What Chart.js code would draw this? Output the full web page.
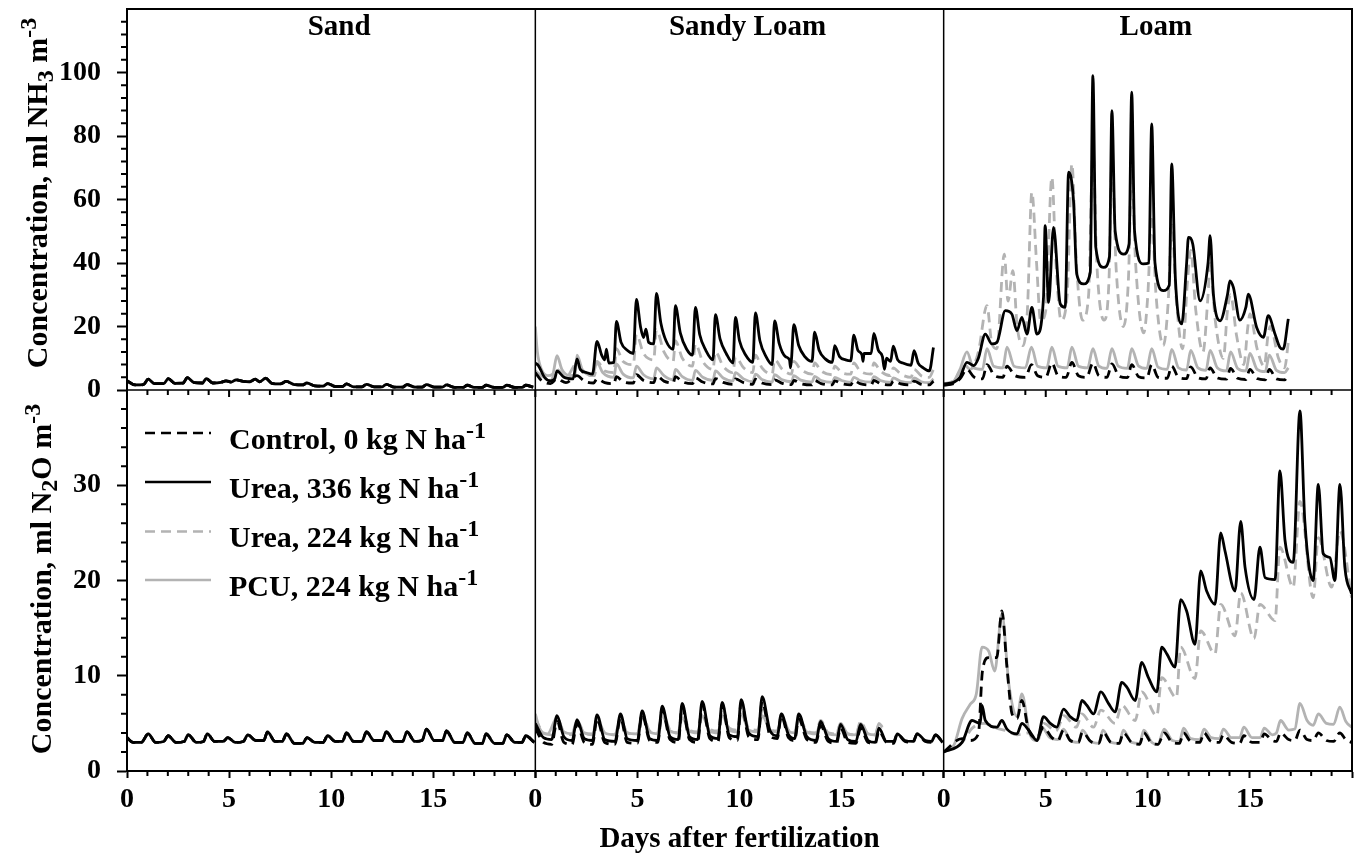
<!DOCTYPE html>
<html>
<head>
<meta charset="utf-8">
<script src="https://cdn.jsdelivr.net/npm/chart.js@4.4.1/dist/chart.umd.min.js"></script>
<style>
  body { margin: 0; background: #fff; }
  #wrap { position: relative; width: 1356px; height: 857px; font-family: 'Liberation Serif', 'Times New Roman', serif; font-weight: bold; color: #000; }
  #chart { position: absolute; left: 0; top: 0; }
  .ytitle { position: absolute; font-size: 30px; line-height: 30px; white-space: nowrap; transform: translate(-50%, -50%) rotate(-90deg); }
  .legend { position: absolute; left: 229px; font-size: 30px; line-height: 30px; white-space: nowrap; }
  .sub { position: relative; top: 0.25em; font-size: 0.8em; line-height: 0; }
  .sup { position: relative; top: -0.45em; font-size: 0.8em; line-height: 0; }
</style>
</head>
<body>
<div id="wrap">
  <canvas id="chart" width="1356" height="857"></canvas>
  <div class="ytitle" style="left:37px; top:193px;">Concentration, ml NH<span class="sub">3</span> m<span class="sup">-3</span></div>
  <div class="ytitle" style="left:41px; top:579px;">Concentration, ml N<span class="sub">2</span>O m<span class="sup">-3</span></div>
  <div class="legend" style="top:424px;">Control, 0 kg N ha<span class="sup">-1</span></div>
  <div class="legend" style="top:473px;">Urea, 336 kg N ha<span class="sup">-1</span></div>
  <div class="legend" style="top:522px;">Urea, 224 kg N ha<span class="sup">-1</span></div>
  <div class="legend" style="top:571px;">PCU, 224 kg N ha<span class="sup">-1</span></div>
</div>
<script>
// [day, concentration]
const sandNH3 = [[0,2.9],[0.4,1.6],[0.8,1.7],[1.04,3.4],[1.35,2.0],[1.8,2.0],[2.02,3.6],[2.35,2.1],[2.75,2.2],[2.95,3.9],[3.3,2.3],[3.7,2.2],[3.88,3.6],[4.2,2.2],[4.6,2.4],[4.85,2.9],[5.1,2.5],[5.35,3.2],[5.7,2.7],[6.0,2.6],[6.28,3.4],[6.5,2.6],[6.79,3.7],[7.1,2.1],[7.5,1.9],[7.8,2.7],[8.2,1.7],[8.6,1.6],[8.81,2.2],[9.2,1.3],[9.6,1.2],[9.83,2.0],[10.2,1.1],[10.55,1.1],[10.75,1.9],[11.1,1.0],[11.5,1.0],[11.73,1.8],[12.1,1.0],[12.5,1.0],[12.7,1.8],[13.1,0.9],[13.5,0.9],[13.71,1.7],[14.1,0.9],[14.45,0.9],[14.67,1.7],[15.05,0.9],[15.45,0.9],[15.65,1.6],[16.05,0.8],[16.45,0.8],[16.67,1.5],[17.0,0.8],[17.4,0.8],[17.59,1.5],[18.0,0.8],[18.4,0.8],[18.6,1.5],[19.0,0.8],[19.35,0.8],[19.53,1.5],[19.9,0.9]];

const sandN2O = [[0,3.5],[0.3,3.0],[0.7,3.0],[1.04,3.9],[1.4,3.0],[1.8,3.1],[2.02,3.7],[2.4,3.0],[2.8,3.1],[3.0,3.8],[3.4,3.0],[3.75,3.1],[3.93,3.9],[4.3,3.1],[4.7,3.1],[4.94,3.5],[5.3,3.0],[5.7,3.1],[5.92,3.8],[6.3,3.2],[6.7,3.2],[6.88,4.1],[7.25,3.1],[7.6,3.1],[7.81,3.9],[8.2,2.9],[8.6,2.9],[8.82,3.5],[9.2,3.0],[9.6,3.0],[9.83,3.7],[10.2,3.1],[10.55,3.1],[10.75,4.0],[11.1,3.1],[11.5,3.1],[11.73,4.1],[12.1,3.2],[12.5,3.2],[12.7,4.1],[13.1,3.1],[13.5,3.1],[13.71,4.1],[14.1,3.1],[14.45,3.2],[14.67,4.4],[15.05,3.2],[15.45,3.2],[15.65,4.2],[16.05,3.0],[16.45,3.0],[16.67,4.0],[17.05,2.9],[17.4,2.9],[17.59,3.9],[18.0,2.9],[18.4,2.9],[18.6,3.8],[19.0,3.0],[19.35,3.0],[19.53,3.7],[19.95,3.0]];

const sandyLoamNH3Urea336 = [[0,8.5],[0.15,7.7],[0.45,4.0],[0.74,2.9],[0.95,3.5],[1.06,6.0],[1.4,4.0],[1.85,3.5],[2.04,9.8],[2.2,6.5],[2.5,5.5],[2.8,5.0],[3.02,15.3],[3.25,11.0],[3.4,9.5],[3.48,12.9],[3.6,8.5],[3.85,8.7],[3.97,21.6],[4.2,15.0],[4.5,12.5],[4.8,11.5],[4.95,28.5],[5.15,20.0],[5.3,16.5],[5.42,19.2],[5.55,15.0],[5.8,14.5],[5.93,30.4],[6.15,21.0],[6.4,15.5],[6.75,12.8],[6.86,26.6],[7.1,18.0],[7.4,13.0],[7.7,11.0],[7.84,26.0],[8.05,17.5],[8.35,12.5],[8.7,9.5],[8.82,23.7],[9.05,16.0],[9.35,11.5],[9.68,8.5],[9.8,22.9],[10.0,15.5],[10.3,11.0],[10.65,8.7],[10.78,24.3],[11.0,15.5],[11.3,10.5],[11.6,8.0],[11.72,21.8],[11.95,14.5],[12.25,10.5],[12.45,9.5],[12.5,7.0],[12.55,10.0],[12.66,20.6],[12.9,14.0],[13.2,10.5],[13.55,9.0],[13.68,18.2],[13.9,12.5],[14.2,9.8],[14.55,8.7],[14.66,14.0],[14.9,10.5],[15.2,9.5],[15.45,9.2],[15.6,17.3],[15.8,12.5],[16.0,11.0],[16.05,9.0],[16.1,11.5],[16.45,11.5],[16.58,17.8],[16.8,12.5],[17.0,10.5],[17.1,6.5],[17.2,10.0],[17.4,9.0],[17.53,13.8],[17.75,9.5],[18.0,8.5],[18.4,7.8],[18.55,12.4],[18.75,8.5],[19.0,7.0],[19.3,6.0],[19.5,13.4]];
const sandyLoamNH3Control = [[0,5.5],[0.3,3.0],[0.74,2.0],[1.06,3.5],[1.5,2.3],[2.04,4.5],[2.4,2.8],[2.85,2.2],[3.02,3.5],[3.4,2.3],[3.85,2.0],[3.97,4.2],[4.3,2.6],[4.8,2.2],[4.95,4.8],[5.3,3.0],[5.8,2.3],[5.93,4.5],[6.3,2.8],[6.75,2.2],[6.86,4.2],[7.2,2.6],[7.7,2.0],[7.84,3.8],[8.2,2.5],[8.7,1.9],[8.82,3.6],[9.2,2.4],[9.68,1.8],[9.8,3.5],[10.2,2.3],[10.65,1.8],[10.78,3.4],[11.1,2.2],[11.6,1.7],[11.72,3.2],[12.1,2.1],[12.55,1.7],[12.66,3.0],[13.0,2.0],[13.55,1.6],[13.68,3.0],[14.0,2.0],[14.55,1.6],[14.66,2.9],[15.0,2.0],[15.45,1.6],[15.6,3.0],[15.9,2.0],[16.45,1.6],[16.58,3.0],[16.9,2.0],[17.4,1.6],[17.53,2.8],[17.9,1.9],[18.4,1.6],[18.55,2.8],[18.9,1.8],[19.3,1.6],[19.5,2.8]];
const sandyLoamNH3Urea224 = [[0,6.0],[0.3,4.5],[0.74,3.0],[1.06,6.5],[1.5,4.0],[2.04,8.5],[2.4,5.0],[2.9,4.5],[3.02,9.0],[3.4,6.0],[3.85,5.5],[3.97,13.0],[4.3,9.0],[4.8,8.0],[4.95,17.5],[5.3,11.5],[5.8,9.5],[5.93,19.0],[6.3,12.0],[6.75,9.0],[6.86,15.5],[7.2,10.0],[7.7,7.5],[7.84,14.5],[8.2,9.0],[8.7,6.5],[8.82,12.0],[9.2,7.5],[9.68,5.5],[9.8,10.5],[10.2,7.0],[10.65,5.5],[10.78,11.0],[11.1,7.0],[11.6,5.0],[11.72,9.5],[12.1,6.5],[12.55,5.0],[12.66,9.0],[13.0,6.5],[13.55,5.0],[13.68,8.5],[14.0,6.0],[14.55,4.8],[14.66,7.5],[15.0,5.5],[15.45,5.0],[15.6,8.5],[15.9,6.0],[16.45,5.0],[16.58,8.5],[16.9,6.0],[17.4,4.5],[17.53,7.0],[17.9,5.0],[18.4,4.0],[18.55,6.5],[18.9,4.5],[19.3,4.0],[19.5,6.5]];
const sandyLoamNH3PCU = [[0,20.0],[0.1,12.0],[0.3,6.5],[0.6,4.5],[0.85,5.0],[1.06,10.8],[1.3,6.5],[1.7,4.5],[1.95,5.0],[2.04,11.0],[2.3,6.5],[2.8,4.5],[3.02,8.7],[3.3,5.5],[3.85,4.0],[3.97,8.2],[4.3,5.0],[4.8,3.8],[4.95,7.5],[5.3,4.8],[5.8,3.5],[5.93,7.0],[6.3,4.5],[6.75,3.2],[6.86,6.5],[7.2,4.2],[7.7,3.0],[7.84,6.2],[8.2,4.0],[8.7,3.0],[8.82,6.0],[9.2,3.8],[9.68,2.8],[9.8,5.5],[10.2,3.5],[10.65,2.6],[10.78,5.0],[11.1,3.3],[11.6,2.5],[11.72,4.8],[12.1,3.2],[12.55,2.6],[12.66,4.5],[13.0,3.1],[13.55,2.5],[13.68,4.3],[14.0,3.0],[14.55,2.4],[14.66,4.0],[15.0,3.0],[15.45,2.4],[15.6,4.0],[15.9,3.0],[16.45,2.5],[16.58,4.2],[16.9,3.0],[17.4,2.4],[17.53,3.8],[17.9,2.7],[18.4,2.3],[18.55,3.8],[18.9,2.6],[19.3,2.3],[19.5,3.5]];

const sandyLoamN2OUrea336 = [[0,5.0],[0.4,3.5],[0.8,3.3],[1.06,5.8],[1.4,3.6],[1.8,3.2],[2.04,5.4],[2.4,3.4],[2.8,3.2],[3.02,5.9],[3.4,3.3],[3.9,3.1],[4.17,6.0],[4.5,3.4],[5.0,3.2],[5.23,6.3],[5.6,3.4],[6.0,3.2],[6.21,6.8],[6.6,3.6],[7.0,3.3],[7.19,7.1],[7.55,3.6],[7.95,3.3],[8.17,7.3],[8.55,3.7],[8.95,3.4],[9.15,7.2],[9.5,3.8],[9.9,3.6],[10.08,7.5],[10.45,4.0],[10.9,3.6],[11.11,7.8],[11.5,4.2],[11.85,3.7],[12.05,6.0],[12.4,3.8],[12.7,3.4],[12.9,6.0],[13.3,3.6],[13.75,3.2],[13.97,5.2],[14.35,3.4],[14.75,3.1],[14.95,4.9],[15.3,3.3],[15.7,3.1],[15.93,4.9],[16.3,3.2],[16.65,3.0],[16.83,4.5],[17.2,3.1],[17.55,3.1],[17.73,3.9],[18.1,3.2],[18.5,3.1],[18.7,3.9],[19.1,3.2],[19.4,3.1],[19.6,3.8],[19.95,3.0]];
const sandyLoamN2OControl = [[0,4.5],[0.4,3.0],[0.8,2.8],[1.06,5.2],[1.4,3.0],[1.8,2.8],[2.04,5.0],[2.4,3.0],[2.8,2.8],[3.02,5.5],[3.4,3.0],[3.9,2.8],[4.17,5.6],[4.5,3.0],[5.0,2.9],[5.23,6.0],[5.6,3.2],[6.0,3.0],[6.21,6.5],[6.6,3.3],[7.0,3.0],[7.19,6.8],[7.55,3.3],[7.95,3.0],[8.17,7.0],[8.55,3.4],[8.95,3.1],[9.15,7.0],[9.5,3.5],[9.9,3.2],[10.08,7.2],[10.45,3.6],[10.9,3.3],[11.11,7.3],[11.5,3.7],[11.85,3.4],[12.05,5.8],[12.4,3.5],[12.7,3.2],[12.9,5.5],[13.3,3.3],[13.75,3.0],[13.97,4.8],[14.35,3.1],[14.75,2.9],[14.95,4.5],[15.3,3.0],[15.7,2.9],[15.93,4.5],[16.3,3.0],[16.65,2.9],[16.83,4.2],[17.2,3.0],[17.55,2.9],[17.73,3.9],[18.1,3.1],[18.5,3.0],[18.7,3.9],[19.1,3.1],[19.4,3.0],[19.6,3.8],[19.95,3.0]];
const sandyLoamN2OUrea224 = [[0,5.5],[0.4,4.0],[0.8,3.8],[1.06,5.5],[1.4,4.0],[1.8,3.8],[2.04,5.2],[2.4,4.0],[2.8,3.8],[3.02,5.5],[3.4,4.0],[3.9,3.8],[4.17,5.6],[4.5,4.0],[5.0,3.9],[5.23,6.0],[5.6,4.2],[6.0,4.0],[6.21,6.2],[6.6,4.3],[7.0,4.0],[7.19,6.3],[7.55,4.3],[7.95,4.1],[8.17,6.2],[8.55,4.4],[8.95,4.2],[9.15,6.5],[9.5,4.5],[9.9,4.3],[10.08,6.8],[10.45,4.5],[10.9,4.3],[11.11,6.4],[11.5,4.4],[11.85,4.2],[12.05,6.0],[12.4,4.3],[12.7,4.1],[12.9,5.6],[13.3,4.2],[13.75,4.0],[13.97,5.3],[14.35,4.0],[14.75,3.9],[14.95,5.0],[15.3,3.9],[15.7,3.8],[15.93,5.2],[16.3,3.9],[16.65,3.8],[16.83,4.8],[17.0,4.5]];
const sandyLoamN2OPCU = [[0,6.0],[0.2,4.5],[0.6,3.9],[1.06,5.6],[1.4,4.1],[1.8,3.9],[2.04,5.3],[2.4,4.0],[2.8,3.9],[3.02,5.2],[3.4,4.0],[3.9,3.8],[4.17,5.4],[4.5,4.0],[5.0,3.9],[5.23,5.6],[5.6,4.1],[6.0,3.9],[6.21,5.8],[6.6,4.2],[7.0,4.0],[7.19,5.6],[7.55,4.2],[7.95,4.0],[8.17,5.8],[8.55,4.2],[8.95,4.0],[9.15,5.9],[9.5,4.3],[9.9,4.1],[10.08,6.0],[10.45,4.3],[10.9,4.1],[11.11,5.8],[11.5,4.3],[11.85,4.1],[12.05,5.6],[12.4,4.2],[12.7,4.0],[12.9,5.3],[13.3,4.1],[13.75,3.9],[13.97,5.0],[14.35,3.9],[14.75,3.8],[14.95,5.0],[15.3,3.9],[15.7,3.8],[15.93,5.0],[16.3,3.9],[16.65,3.8],[16.83,5.0],[17.0,4.6]];

const loamNH3Urea336 = [[0,1.9],[0.49,2.4],[0.8,4.0],[1.14,8.7],[1.47,7.7],[1.7,10.0],[2.04,17.6],[2.36,14.5],[2.61,15.0],[3.02,25.0],[3.34,23.9],[3.59,18.7],[3.83,22.9],[4.08,17.6],[4.32,26.0],[4.57,17.6],[4.89,29.2],[4.97,51.8],[5.14,27.6],[5.38,51.2],[5.71,27.1],[5.95,26.0],[6.12,68.6],[6.36,59.6],[6.52,36.5],[6.85,33.4],[7.18,37.0],[7.31,99.0],[7.45,45.0],[7.83,38.6],[8.12,42.0],[8.24,88.0],[8.4,50.0],[8.81,42.8],[9.08,46.0],[9.21,93.8],[9.35,50.0],[9.78,39.7],[10.05,40.0],[10.19,83.8],[10.35,40.0],[10.76,31.3],[11.05,33.0],[11.17,71.2],[11.35,35.0],[11.66,20.8],[11.9,40.0],[11.99,48.1],[12.2,46.0],[12.56,28.1],[12.95,40.0],[13.05,48.6],[13.21,30.2],[13.54,21.8],[13.9,30.0],[14.02,34.4],[14.19,32.3],[14.51,22.0],[14.8,26.0],[14.92,30.2],[15.33,19.7],[15.66,16.6],[15.9,23.4],[16.23,17.6],[16.47,13.4],[16.63,12.9],[16.88,22.4]];
const loamNH3Control = [[0,1.5],[0.5,2.0],[0.8,3.5],[1.14,6.5],[1.5,4.0],[1.9,3.5],[2.12,8.0],[2.5,4.5],[2.9,4.0],[3.1,7.5],[3.5,4.5],[4.0,4.0],[4.3,8.0],[4.6,4.5],[5.0,4.0],[5.3,8.5],[5.6,4.5],[6.0,4.0],[6.28,8.7],[6.6,4.5],[7.0,4.0],[7.31,8.5],[7.6,4.5],[8.0,4.0],[8.24,8.2],[8.6,4.3],[9.0,3.9],[9.21,8.0],[9.55,4.2],[9.95,3.8],[10.19,8.0],[10.5,4.0],[10.95,3.7],[11.17,7.5],[11.5,4.0],[11.9,3.6],[12.1,7.3],[12.45,3.9],[12.85,3.5],[13.05,7.0],[13.4,3.8],[13.85,3.4],[14.05,6.8],[14.4,3.7],[14.8,3.3],[15.0,6.5],[15.35,3.6],[15.75,3.2],[15.95,6.5],[16.3,3.5],[16.7,3.2],[16.88,5.0]];
const loamNH3Urea224 = [[0,2.0],[0.5,3.0],[0.8,6.0],[1.0,8.0],[1.3,6.5],[1.7,12.0],[2.12,26.6],[2.35,15.0],[2.6,13.0],[2.97,42.8],[3.15,28.0],[3.39,37.6],[3.6,20.0],[3.9,14.0],[4.1,25.0],[4.32,62.3],[4.55,40.0],[4.75,21.8],[5.0,25.0],[5.3,67.0],[5.5,40.0],[5.75,22.0],[6.05,30.0],[6.28,71.2],[6.5,40.0],[6.8,22.0],[7.1,30.0],[7.31,76.4],[7.5,40.0],[7.85,22.0],[8.1,35.0],[8.24,73.0],[8.45,38.0],[8.8,20.0],[9.05,35.0],[9.21,70.0],[9.4,40.0],[9.8,18.0],[10.0,30.0],[10.19,55.0],[10.4,30.0],[10.76,14.0],[11.0,28.0],[11.17,52.0],[11.4,28.0],[11.7,13.0],[11.95,35.0],[12.1,44.0],[12.35,25.0],[12.7,12.0],[12.95,30.0],[13.05,40.0],[13.3,22.0],[13.7,10.0],[13.9,25.0],[14.05,30.0],[14.35,17.0],[14.7,8.0],[14.9,20.0],[15.0,24.0],[15.35,13.0],[15.7,7.5],[15.9,18.0],[16.0,20.0],[16.4,10.0],[16.7,7.0],[16.88,15.0]];
const loamNH3PCU = [[0,1.5],[0.4,2.0],[0.8,6.5],[1.14,12.0],[1.45,7.0],[1.9,6.5],[2.12,13.0],[2.45,7.5],[2.9,7.0],[3.1,13.5],[3.45,7.5],[4.0,7.0],[4.3,13.5],[4.6,7.5],[5.05,7.0],[5.3,13.5],[5.6,7.5],[6.05,7.0],[6.28,13.5],[6.6,7.5],[7.05,7.0],[7.31,13.0],[7.6,7.5],[8.0,6.8],[8.24,13.0],[8.55,7.5],[9.0,6.8],[9.21,13.0],[9.55,7.5],[9.95,6.8],[10.19,13.0],[10.5,7.2],[10.95,6.5],[11.17,12.8],[11.5,7.0],[11.9,6.3],[12.1,12.5],[12.45,7.0],[12.85,6.2],[13.05,12.5],[13.4,7.0],[13.85,6.0],[14.05,12.0],[14.4,6.8],[14.8,6.0],[15.0,11.5],[15.35,6.5],[15.75,5.8],[15.95,11.0],[16.3,6.2],[16.7,5.5],[16.88,7.0]];

const loamN2OUrea336 = [[0,2.0],[0.9,3.0],[1.39,5.3],[1.79,5.0],[1.88,6.9],[2.04,5.3],[2.61,4.6],[2.85,5.3],[3.1,4.4],[3.59,3.9],[3.83,5.0],[4.16,4.3],[4.57,3.2],[4.89,5.7],[5.22,5.0],[5.54,4.6],[5.87,6.5],[6.2,5.7],[6.52,5.3],[6.77,7.4],[7.01,6.9],[7.34,6.0],[7.7,8.3],[8.07,7.1],[8.4,6.2],[8.72,9.3],[8.97,8.8],[9.38,7.4],[9.7,11.4],[10.03,9.8],[10.44,8.3],[10.68,13.0],[10.93,12.3],[11.33,10.9],[11.61,18.0],[11.9,16.8],[12.31,13.3],[12.59,21.0],[12.88,18.9],[13.29,17.5],[13.57,25.0],[13.78,23.1],[14.27,18.9],[14.55,26.2],[14.76,21.4],[15.2,18.0],[15.49,23.5],[15.74,20.3],[16.23,20.1],[16.47,31.5],[16.72,24.2],[17.12,21.9],[17.45,37.8],[17.69,26.2],[18.1,20.0],[18.35,30.1],[18.59,22.8],[18.92,22.4],[19.16,20.0],[19.41,30.1],[19.65,21.4],[19.98,18.6]];
const loamN2OControl = [[0,2.0],[0.9,3.4],[1.3,3.2],[1.7,3.9],[1.9,10.5],[2.2,11.9],[2.6,11.9],[2.85,16.8],[3.1,10.9],[3.35,6.0],[3.6,5.5],[3.83,7.4],[4.16,4.3],[4.57,3.5],[4.89,4.6],[5.3,3.5],[5.6,3.2],[5.87,4.3],[6.2,3.2],[6.6,3.0],[6.8,4.1],[7.2,3.1],[7.6,2.9],[7.8,4.1],[8.2,3.0],[8.6,2.9],[8.8,4.0],[9.2,3.0],[9.6,2.8],[9.8,4.0],[10.2,2.9],[10.5,2.8],[10.8,4.0],[11.2,3.0],[11.55,2.9],[11.75,4.0],[12.1,3.1],[12.55,3.0],[12.75,4.0],[13.1,3.1],[13.5,3.0],[13.7,3.8],[14.1,3.0],[14.5,2.9],[14.7,3.7],[15.1,3.0],[15.5,3.0],[15.7,3.9],[16.1,3.2],[16.3,3.1],[16.5,4.0],[16.9,3.3],[17.2,3.2],[17.45,4.3],[17.8,3.3],[18.1,3.2],[18.35,4.0],[18.75,3.2],[19.1,3.1],[19.4,4.0],[19.7,3.3],[19.98,3.0]];
const loamN2OUrea224 = [[0,2.0],[0.9,3.0],[1.4,4.5],[2.0,5.0],[2.6,4.5],[3.1,4.2],[3.6,3.8],[4.2,4.0],[4.6,3.2],[4.9,5.0],[5.5,4.2],[5.9,5.8],[6.5,4.6],[6.77,6.0],[7.34,4.6],[7.7,6.4],[8.4,5.0],[8.72,6.9],[9.38,5.3],[9.7,8.3],[10.44,5.8],[10.68,9.8],[11.4,7.7],[11.61,13.0],[12.31,9.7],[12.59,14.7],[13.29,12.3],[13.57,17.5],[14.27,14.2],[14.55,18.7],[15.2,13.9],[15.49,17.5],[16.23,15.8],[16.47,23.5],[17.12,19.3],[17.45,28.3],[18.1,18.2],[18.35,24.5],[19.0,19.3],[19.41,25.2],[19.98,18.2]];
const loamN2OPCU = [[0,2.0],[0.5,2.7],[0.9,5.5],[1.3,7.0],[1.6,8.1],[1.88,13.0],[2.2,12.6],[2.5,10.5],[2.85,16.5],[3.2,9.0],[3.6,5.7],[3.83,8.1],[4.2,4.0],[4.57,3.2],[4.8,4.6],[5.2,3.5],[5.6,3.3],[5.87,4.4],[6.2,3.2],[6.6,3.0],[6.8,4.3],[7.2,3.1],[7.6,2.9],[7.8,4.3],[8.2,3.0],[8.6,2.9],[8.8,4.3],[9.2,3.0],[9.6,2.9],[9.8,4.3],[10.2,3.0],[10.5,2.8],[10.8,4.4],[11.2,3.2],[11.55,3.1],[11.75,4.5],[12.1,3.4],[12.55,3.3],[12.75,4.4],[13.1,3.5],[13.5,3.4],[13.7,4.4],[14.1,3.5],[14.5,3.5],[14.7,4.6],[15.1,3.5],[15.5,3.5],[15.7,4.5],[16.1,3.8],[16.3,4.0],[16.5,5.3],[16.9,4.3],[17.2,4.4],[17.45,7.1],[17.8,5.3],[18.1,4.8],[18.35,6.0],[18.75,5.0],[19.1,4.9],[19.4,6.7],[19.7,5.2],[19.98,4.6]];

const soils = ['Sand', 'Sandy Loam', 'Loam'];
const treatments = ['Urea, 336 kg N ha', 'Control, 0 kg N ha', 'Urea, 224 kg N ha', 'PCU, 224 kg N ha'];

const GRAY = '#b3b3b3';
const styles = [
  { color: '#000', dash: [] },
  { color: '#000', dash: [10, 6] },
  { color: GRAY, dash: [10, 6] },
  { color: GRAY, dash: [] },
];

// one entry per panel: x axis, y axis, and the series in treatment order
const panels = [
  { x: 'xSand', y: 'yNH3', series: [sandNH3, sandNH3, sandNH3, sandNH3] },
  { x: 'xSandyLoam', y: 'yNH3', series: [sandyLoamNH3Urea336, sandyLoamNH3Control, sandyLoamNH3Urea224, sandyLoamNH3PCU] },
  { x: 'xLoam', y: 'yNH3', series: [loamNH3Urea336, loamNH3Control, loamNH3Urea224, loamNH3PCU] },
  { x: 'xSand', y: 'yN2O', series: [sandN2O, sandN2O, sandN2O, sandN2O] },
  { x: 'xSandyLoam', y: 'yN2O', series: [sandyLoamN2OUrea336, sandyLoamN2OControl, sandyLoamN2OUrea224, sandyLoamN2OPCU] },
  { x: 'xLoam', y: 'yN2O', series: [loamN2OUrea336, loamN2OControl, loamN2OUrea224, loamN2OPCU] },
];

// datasets sorted so the black lines sit on top (index 0 is drawn last)
const datasets = [];
treatments.forEach((t, i) => {
  panels.forEach(p => {
    datasets.push({
      label: t,
      data: p.series[i].map(([x, y]) => ({ x, y })),
      xAxisID: p.x,
      yAxisID: p.y,
      borderColor: styles[i].color,
      borderDash: styles[i].dash,
      borderWidth: 2.8,
      pointRadius: 0,
      fill: false,
      cubicInterpolationMode: 'monotone',
    });
  });
});

const serif = 'Liberation Serif';
const tickFont = { family: serif, size: 28, weight: 'bold' };

function xAxis(withTitle) {
  return {
    type: 'linear', position: 'bottom', stack: 'days', stackWeight: 1,
    min: 0, max: 20,
    ticks: { stepSize: 5, autoSkip: false, maxRotation: 0, color: '#000', font: tickFont, padding: 5,
      callback: v => (v < 20 ? String(v) : '') },
    grid: { drawOnChartArea: false, tickLength: 7, tickWidth: 2, tickColor: '#000' },
    border: { color: '#000', width: 2 },
    title: { display: withTitle, text: 'Days after fertilization', color: '#000',
      font: { family: serif, size: 29, weight: 'bold' }, padding: 0 },
    afterFit: s => { s.height = 86; s.paddingLeft = 0; s.paddingRight = 0; },
  };
}

function yAxis(max, step) {
  return {
    type: 'linear', position: 'left', stack: 'conc', stackWeight: 1,
    min: 0, max: max,
    ticks: { stepSize: step, color: '#000', font: tickFont, padding: 16,
      callback: v => (v < max ? String(v) : null) },
    grid: { drawOnChartArea: false, tickLength: 10, tickWidth: 2, tickColor: '#000' },
    border: { color: '#000', width: 2 },
    afterFit: s => { s.width = 127; s.paddingTop = 0; s.paddingBottom = 0; },
  };
}

const legendLineY = [433, 482, 531.5, 580];
const legendOrder = [1, 0, 2, 3];

const framePlugin = {
  id: 'frame',
  afterDraw(chart) {
    const { ctx, chartArea: a, scales } = chart;
    const yMid = scales.yNH3.bottom;
    const line = (x1, y1, x2, y2) => { ctx.moveTo(x1, y1); ctx.lineTo(x2, y2); };
    ctx.save();
    ctx.strokeStyle = '#000';
    ctx.lineWidth = 2;
    ctx.strokeRect(a.left, a.top, a.width, a.height);

    ctx.lineWidth = 1.5;
    ctx.beginPath();
    line(scales.xSand.right, a.top, scales.xSand.right, a.bottom);
    line(scales.xSandyLoam.right, a.top, scales.xSandyLoam.right, a.bottom);
    line(a.left, yMid, a.right, yMid);
    ctx.stroke();

    // minor ticks, and the top row's day ticks on the middle line
    ctx.lineWidth = 2;
    ctx.beginPath();
    ['xSand', 'xSandyLoam', 'xLoam'].forEach(id => {
      const s = scales[id];
      for (let d = 0; d <= 20; d++) {
        const x = s.getPixelForValue(d);
        if (d % 5 !== 0) line(x, a.bottom, x, a.bottom + 5);
        line(x, yMid, x, yMid + (d % 5 === 0 ? 7 : 5));
      }
    });
    for (let v = 4; v < 120; v += 4) {
      if (v % 20 === 0) continue;
      const y = scales.yNH3.getPixelForValue(v);
      line(a.left - 6, y, a.left, y);
    }
    for (let v = 2; v < 40; v += 2) {
      if (v % 10 === 0) continue;
      const y = scales.yN2O.getPixelForValue(v);
      line(a.left - 6, y, a.left, y);
    }
    ctx.stroke();

    // panel titles
    ctx.fillStyle = '#000';
    ctx.font = 'bold 29px "' + serif + '"';
    ctx.textAlign = 'center';
    ctx.textBaseline = 'alphabetic';
    ['xSand', 'xSandyLoam', 'xLoam'].forEach((id, i) => {
      const s = scales[id];
      ctx.fillText(soils[i], (s.left + s.right) / 2 + 8, a.top + 26);
    });

    // legend line samples
    ctx.lineWidth = 2.5;
    legendOrder.forEach((ti, row) => {
      ctx.beginPath();
      ctx.strokeStyle = styles[ti].color;
      ctx.setLineDash(styles[ti].dash);
      line(145, legendLineY[row], 211, legendLineY[row]);
      ctx.stroke();
    });
    ctx.restore();
  }
};

new Chart(document.getElementById('chart'), {
  type: 'line',
  data: { datasets },
  options: {
    responsive: false,
    animation: false,
    layout: { padding: { top: 9, right: 4, left: 0, bottom: 0 } },
    plugins: { legend: { display: false }, tooltip: { enabled: false } },
    scales: {
      xSand: xAxis(false),
      xSandyLoam: xAxis(true),
      xLoam: xAxis(false),
      yN2O: yAxis(40, 10),
      yNH3: yAxis(120, 20),
    },
  },
  plugins: [framePlugin],
});
</script>
</body>
</html>
